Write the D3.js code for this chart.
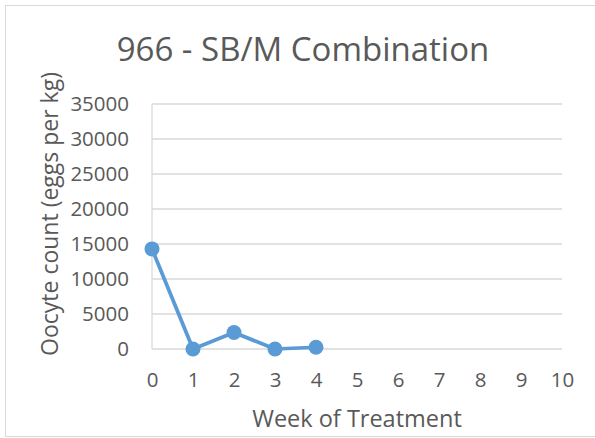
<!DOCTYPE html>
<html>
<head>
<meta charset="utf-8">
<script src="https://cdn.jsdelivr.net/npm/d3@7"></script>
<style>
  body { margin: 0; background: #fff; }
  text { font-family: "Open Sans", sans-serif; fill: #595959; }
</style>
</head>
<body>
<div id="chart"></div>
<script>
// Data
const weeks = [0, 1, 2, 3, 4];
const oocyteCounts = [14300, 0, 2350, 0, 250];
const yTicks = [0, 5000, 10000, 15000, 20000, 25000, 30000, 35000];
const xTicks = [0, 1, 2, 3, 4, 5, 6, 7, 8, 9, 10];

const chartTitle = "966 - SB/M Combination";
const xTitle = "Week of Treatment";
const yTitle = "Oocyte count (eggs per kg)";

const W = 595, H = 438;
const margin = { top: 104, right: 33, bottom: 89, left: 152 };
const width = W - margin.left - margin.right;
const height = H - margin.top - margin.bottom;

const svg = d3.select("#chart").append("svg")
    .attr("width", W)
    .attr("height", H);

// chart frame
svg.append("rect")
    .attr("x", 5.5).attr("y", 5.5)
    .attr("width", W).attr("height", 431)
    .attr("fill", "#fff")
    .attr("stroke", "#D9D9D9");

const g = svg.append("g")
    .attr("transform", `translate(${margin.left},${margin.top})`);

const x = d3.scaleLinear().domain([0, 10]).range([0, width]);
const y = d3.scaleLinear().domain([0, 35000]).range([height, 0]);

// gridlines
g.selectAll(".grid")
    .data(yTicks)
    .enter().append("line")
    .attr("class", "grid")
    .attr("x1", 0).attr("x2", width)
    .attr("y1", d => y(d)).attr("y2", d => y(d))
    .attr("stroke", "#D9D9D9")
    .attr("stroke-width", 1.3);

// y axis line
g.append("line")
    .attr("x1", 0).attr("x2", 0)
    .attr("y1", 0).attr("y2", height)
    .attr("stroke", "#D9D9D9")
    .attr("stroke-width", 1.3);

// Y axis labels
const yAxis = g.append("g")
    .call(d3.axisLeft(y).tickValues(yTicks).tickFormat(d3.format("d")).tickSize(0).tickPadding(23));
yAxis.select(".domain").remove();
yAxis.selectAll("text")
    .style("font-size", "20.5px")
    .style("font-family", "'Open Sans', sans-serif")
    .attr("fill", "#595959");

// X axis labels
const xAxis = g.append("g")
    .attr("transform", `translate(0,${height})`)
    .call(d3.axisBottom(x).tickValues(xTicks).tickSize(0).tickPadding(23));
xAxis.select(".domain").remove();
xAxis.selectAll("text")
    .style("font-size", "20.5px")
    .style("font-family", "'Open Sans', sans-serif")
    .attr("fill", "#595959");

// series line
const line = d3.line()
    .x((d, i) => x(weeks[i]))
    .y(d => y(d));

g.append("path")
    .datum(oocyteCounts)
    .attr("d", line)
    .attr("fill", "none")
    .attr("stroke", "#5B9BD5")
    .attr("stroke-width", 3.75)
    .attr("stroke-linejoin", "round");

g.selectAll(".dot")
    .data(oocyteCounts)
    .enter().append("circle")
    .attr("class", "dot")
    .attr("cx", (d, i) => x(weeks[i]))
    .attr("cy", d => y(d))
    .attr("r", 7.5)
    .attr("fill", "#5B9BD5");

// titles
svg.append("text")
    .attr("x", 303).attr("y", 61)
    .attr("text-anchor", "middle")
    .style("font-size", "33px")
    .text(chartTitle);

svg.append("text")
    .attr("x", margin.left + width / 2).attr("y", 427)
    .attr("text-anchor", "middle")
    .style("font-size", "23.5px")
    .text(xTitle);

svg.append("text")
    .attr("transform", `translate(58,214) rotate(-90)`)
    .attr("text-anchor", "middle")
    .style("font-size", "23px")
    .text(yTitle);
</script>
</body>
</html>
